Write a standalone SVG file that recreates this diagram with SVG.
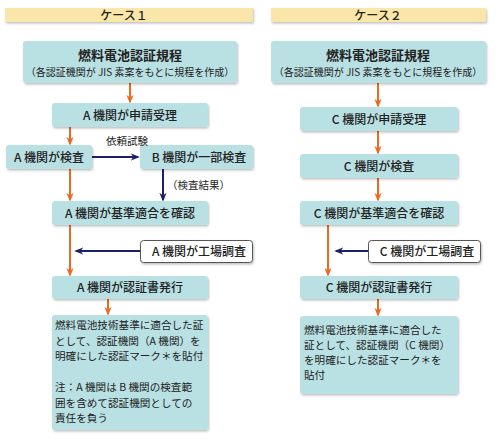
<svg xmlns="http://www.w3.org/2000/svg" width="501" height="441" viewBox="0 0 501 441">
<defs>
<style>
.box{fill:#b9e0e3;}
.wbox{fill:#ffffff;stroke:#555;stroke-width:1;}
.hdr{fill:#fbe6a9;}
text{font-family:"Noto Sans CJK JP","Noto Sans",sans-serif;fill:#222;}
.t{font-size:12px;font-weight:500;text-anchor:middle;}
.title{font-size:13px;font-weight:bold;text-anchor:middle;}
.sub{font-size:10px;text-anchor:middle;}
.body{font-size:10.6px;}
.lbl{font-size:10.5px;}
.or{stroke:#ec6a1f;stroke-width:2;fill:none;}
.nv{stroke:#1c1f6a;stroke-width:2;fill:none;}
</style>
<filter id="sh" x="-10%" y="-10%" width="130%" height="150%">
<feDropShadow dx="1" dy="1.5" stdDeviation="1" flood-color="#000" flood-opacity="0.25"/>
</filter>
<marker id="ao" viewBox="0 0 10 10" refX="9" refY="5" markerWidth="4" markerHeight="4" orient="auto" markerUnits="userSpaceOnUse">
<path d="M0,0 L10,5 L0,10 L3,5 z" fill="#ec6a1f"/>
</marker>
<marker id="an" viewBox="0 0 10 10" refX="9" refY="5" markerWidth="4.5" markerHeight="4.5" orient="auto" markerUnits="userSpaceOnUse">
<path d="M0,0 L10,5 L0,10 L3,5 z" fill="#1c1f6a"/>
</marker>
<marker id="ao2" viewBox="0 0 10 10" refX="8" refY="5" markerWidth="9" markerHeight="9" orient="auto" markerUnits="userSpaceOnUse">
<path d="M0,1 L10,5 L0,9 L3,5 z" fill="#ec6a1f"/>
</marker>
<marker id="an2" viewBox="0 0 10 10" refX="8" refY="5" markerWidth="9" markerHeight="9" orient="auto" markerUnits="userSpaceOnUse">
<path d="M0,1 L10,5 L0,9 L3,5 z" fill="#1c1f6a"/>
</marker>
</defs>
<rect width="501" height="441" fill="#ffffff"/>

<g id="header1"><rect class="hdr" x="5" y="8" width="248" height="14" filter="url(#sh)"/><text class="t" x="124" y="19.5" font-weight="bold">ケース１</text></g>
<g id="header2"><rect class="hdr" x="271" y="8" width="215" height="14" filter="url(#sh)"/><text class="t" x="378" y="19.5" font-weight="bold">ケース２</text></g>

<g id="connectors">
<line class="or" x1="130" y1="83" x2="130" y2="102" marker-end="url(#ao2)"/>
<line class="or" x1="70" y1="127" x2="70" y2="144" marker-end="url(#ao2)"/>
<line class="or" x1="70" y1="169" x2="70" y2="200" marker-end="url(#ao2)"/>
<line class="or" x1="70" y1="225" x2="70" y2="275" marker-end="url(#ao2)"/>
<line class="or" x1="108" y1="299" x2="108" y2="314" marker-end="url(#ao2)"/>
<line class="nv" x1="92" y1="157" x2="138" y2="157" marker-end="url(#an2)"/>
<line class="nv" x1="163" y1="169" x2="163" y2="200" marker-end="url(#an2)"/>
<line class="nv" x1="140" y1="251" x2="76" y2="251" marker-end="url(#an2)"/>

<line class="or" x1="378" y1="83" x2="378" y2="106" marker-end="url(#ao2)"/>
<line class="or" x1="378" y1="131" x2="378" y2="153" marker-end="url(#ao2)"/>
<line class="or" x1="378" y1="178" x2="378" y2="200" marker-end="url(#ao2)"/>
<line class="or" x1="328" y1="225" x2="328" y2="275" marker-end="url(#ao2)"/>
<line class="or" x1="378" y1="299" x2="378" y2="315" marker-end="url(#ao2)"/>
<line class="nv" x1="368" y1="251" x2="336" y2="251" marker-end="url(#an2)"/>
</g>

<g id="L1"><rect class="box" x="23" y="41" width="214" height="42" rx="3" filter="url(#sh)"/><text class="title" x="130" y="60">燃料電池認証規程</text><text class="sub" x="130" y="76">（各認証機関が JIS 素案をもとに規程を作成）</text></g>
<g id="L2"><rect class="box" x="52" y="103" width="156" height="24" rx="3" filter="url(#sh)"/><text class="t" x="130" y="119.5">A 機関が申請受理</text></g>
<g id="L3"><rect class="box" x="6" y="145" width="86" height="24" rx="3" filter="url(#sh)"/><text class="t" x="49" y="161.5">A 機関が検査</text></g>
<g id="L4"><rect class="box" x="140" y="145" width="113" height="24" rx="3" filter="url(#sh)"/><text class="t" x="199" y="161.5">B 機関が一部検査</text></g>
<text class="lbl" x="106" y="145">依頼試験</text>
<text class="lbl" x="167" y="189">（検査結果）</text>
<g id="L5"><rect class="box" x="52" y="201" width="156" height="24" rx="3" filter="url(#sh)"/><text class="t" x="130" y="217.5">A 機関が基準適合を確認</text></g>
<g id="L6"><rect class="wbox" x="140.5" y="240.5" width="112" height="22" rx="3" filter="url(#sh)"/><text class="t" x="199" y="255.5">A 機関が工場調査</text></g>
<g id="L7"><rect class="box" x="52" y="276" width="156" height="23" rx="3" filter="url(#sh)"/><text class="t" x="130" y="292">A 機関が認証書発行</text></g>
<g id="L8"><rect class="box" x="52" y="315" width="156" height="115" rx="3" filter="url(#sh)"/>
<text class="body" x="55" y="329">燃料電池技術基準に適合した証</text>
<text class="body" x="55" y="344.5">として、認証機関（A 機関）を</text>
<text class="body" x="55" y="360">明確にした認証マーク＊を貼付</text>
<text class="body" x="55" y="391">注：A 機関は B 機関の検査範</text>
<text class="body" x="55" y="406.5">囲を含めて認証機関としての</text>
<text class="body" x="55" y="422">責任を負う</text>
</g>

<g id="R1"><rect class="box" x="271" y="41" width="215" height="42" rx="3" filter="url(#sh)"/><text class="title" x="378" y="60">燃料電池認証規程</text><text class="sub" x="378" y="76">（各認証機関が JIS 素案をもとに規程を作成）</text></g>
<g id="R2"><rect class="box" x="300" y="107" width="158" height="24" rx="3" filter="url(#sh)"/><text class="t" x="379" y="123.5">C 機関が申請受理</text></g>
<g id="R3"><rect class="box" x="300" y="154" width="158" height="24" rx="3" filter="url(#sh)"/><text class="t" x="379" y="170.5">C 機関が検査</text></g>
<g id="R4"><rect class="box" x="300" y="201" width="158" height="24" rx="3" filter="url(#sh)"/><text class="t" x="379" y="217.5">C 機関が基準適合を確認</text></g>
<g id="R5"><rect class="wbox" x="368.5" y="240.5" width="112" height="22" rx="3" filter="url(#sh)"/><text class="t" x="427" y="255.5">C 機関が工場調査</text></g>
<g id="R6"><rect class="box" x="300" y="276" width="158" height="23" rx="3" filter="url(#sh)"/><text class="t" x="379" y="292">C 機関が認証書発行</text></g>
<g id="R7"><rect class="box" x="300" y="316" width="158" height="78" rx="3" filter="url(#sh)"/>
<text class="body" x="304" y="334">燃料電池技術基準に適合した</text>
<text class="body" x="304" y="349">証として、認証機関（C 機関）</text>
<text class="body" x="304" y="364">を明確にした認証マーク＊を</text>
<text class="body" x="304" y="379">貼付</text>
</g>
</svg>
